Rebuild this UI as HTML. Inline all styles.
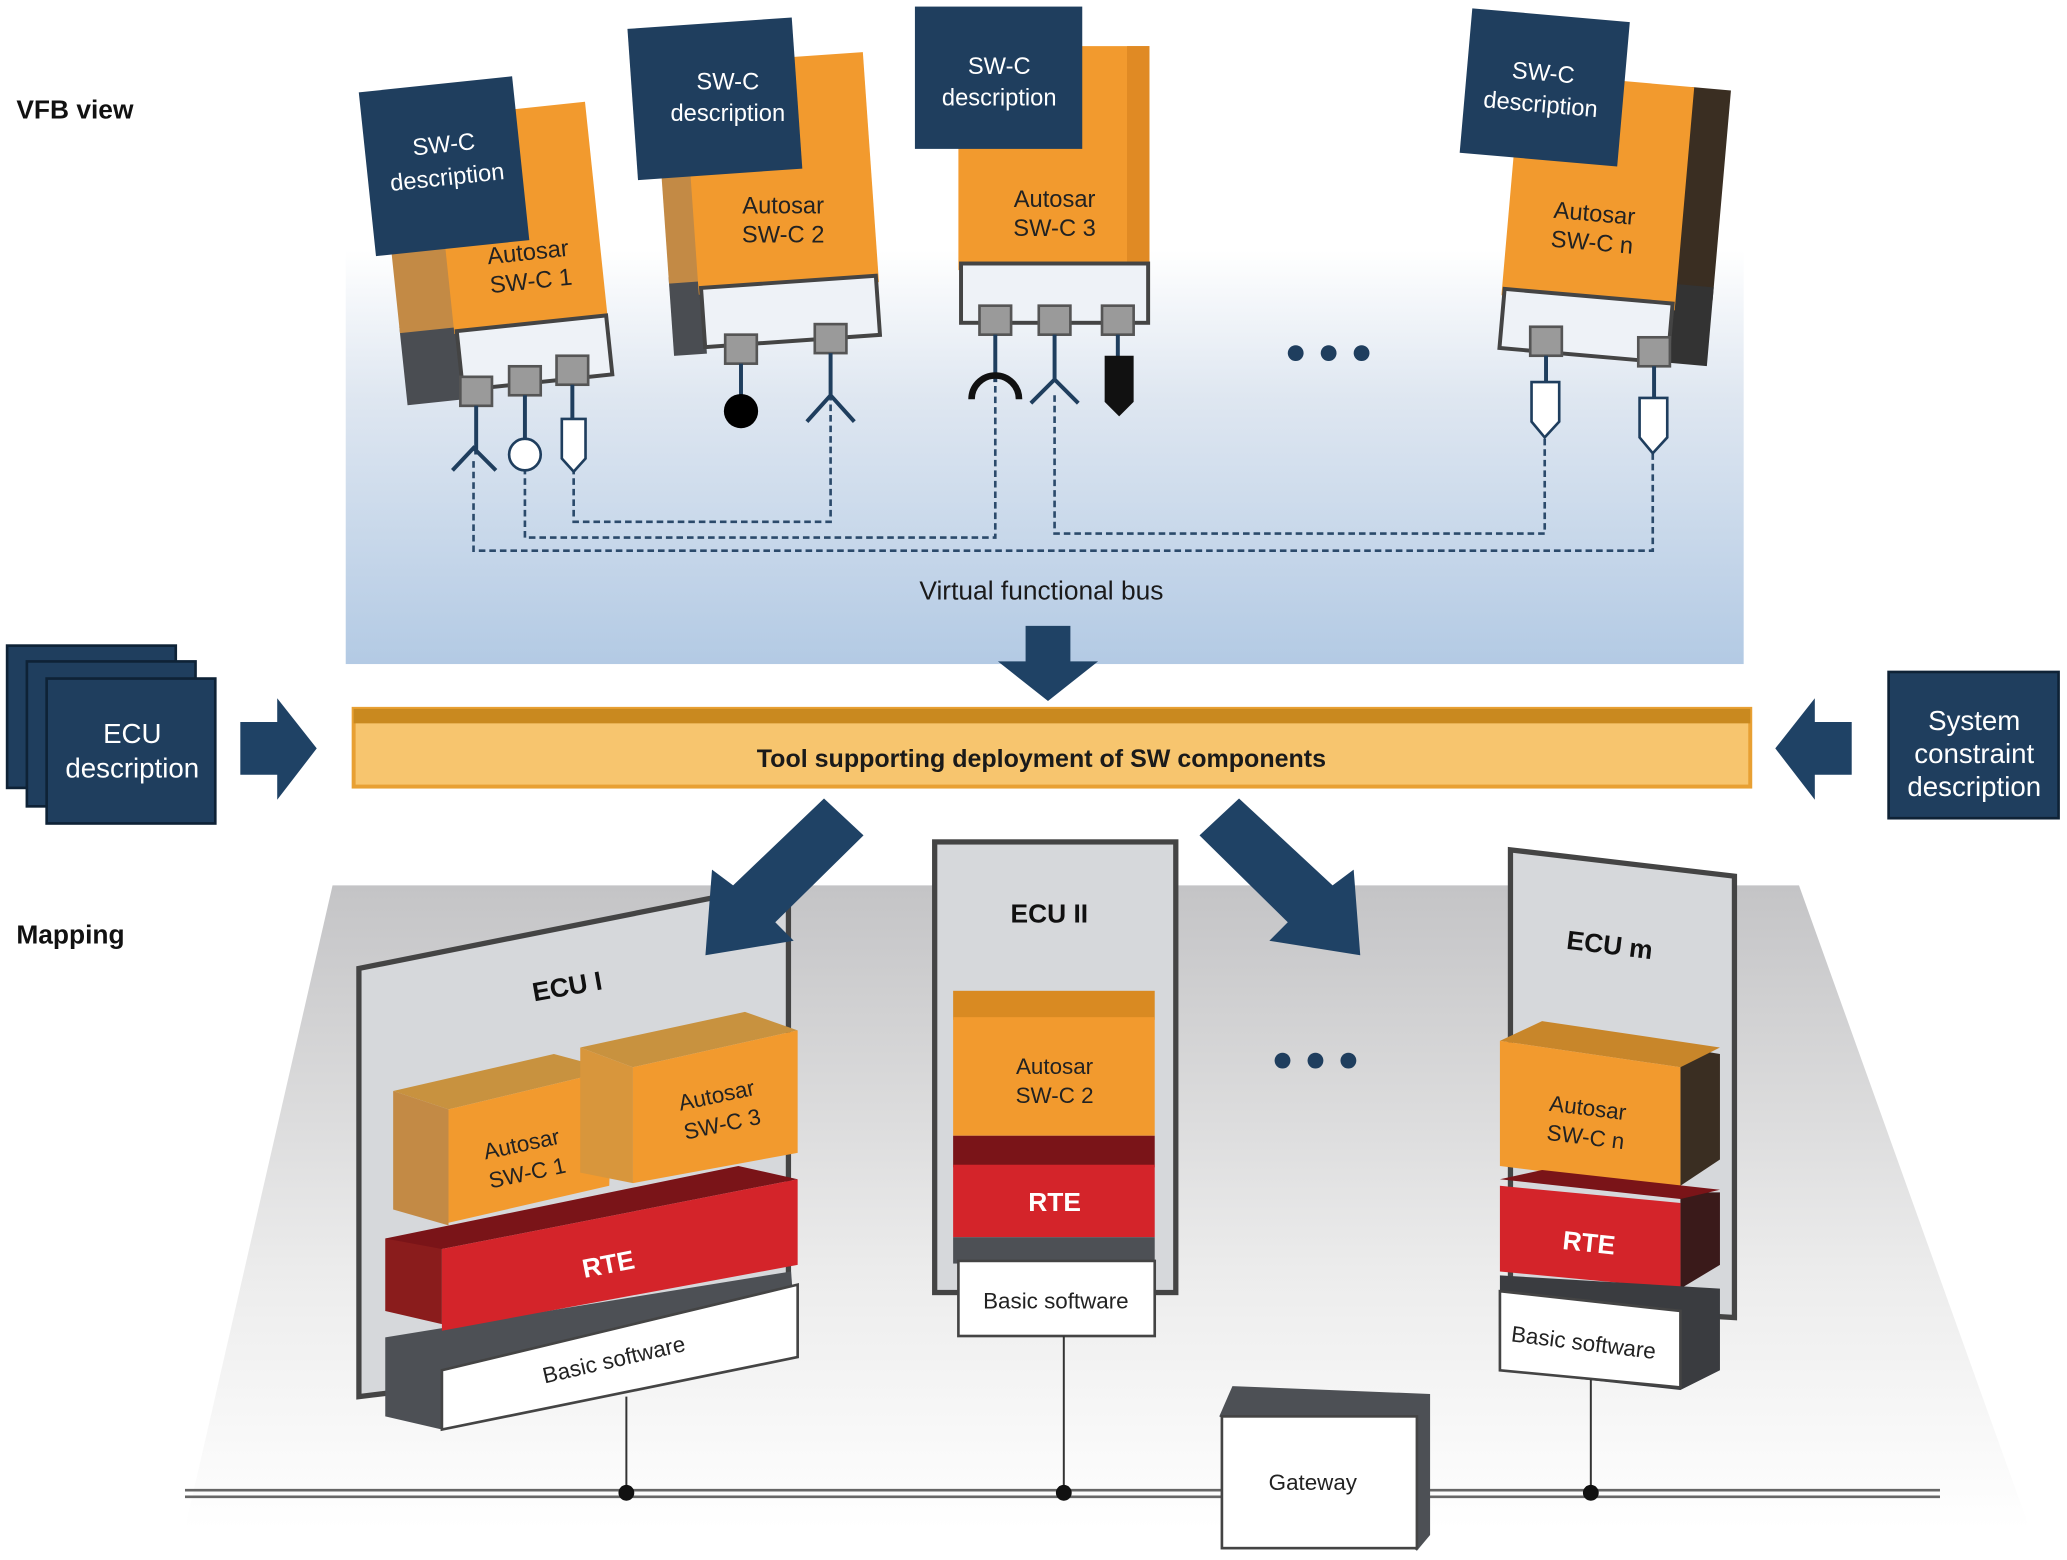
<!DOCTYPE html>
<html><head><meta charset="utf-8"><style>
html,body{margin:0;padding:0;background:#fff;}
svg{display:block;}
text{font-family:"Liberation Sans",sans-serif;}
</style></head><body>
<svg width="2067" height="1560" viewBox="0 0 1568 1184" xmlns="http://www.w3.org/2000/svg">
<defs>
<linearGradient id="vfb" x1="0" y1="0" x2="0" y2="1">
<stop offset="0" stop-color="#ffffff"/><stop offset="0.35" stop-color="#dfe7f1"/><stop offset="1" stop-color="#b3cae4"/>
</linearGradient>
<linearGradient id="floor" x1="0" y1="0" x2="0" y2="1">
<stop offset="0" stop-color="#c4c4c6"/><stop offset="0.6" stop-color="#ececec"/><stop offset="1" stop-color="#ffffff"/>
</linearGradient>
<g id="port"><rect x="-12" y="-12" width="24" height="22" fill="#9a9a9a" stroke="#555" stroke-width="2"/></g>
</defs>

<!-- VFB panel -->
<rect x="262" y="190" width="1061" height="314" fill="url(#vfb)"/>
<text x="12" y="90" font-size="20" font-weight="bold" fill="#111">VFB view</text>
<text x="12" y="716" font-size="20" font-weight="bold" fill="#111">Mapping</text>

<!-- dashed bus lines -->
<g fill="none" stroke="#2b4a6b" stroke-width="2" stroke-dasharray="5,3">
<path d="M359 350 V418 H1254 V340"/>
<path d="M398 355 V408 H755 V290"/>
<path d="M435 355 V396 H630 V300"/>
<path d="M800 300 V405 H1172 V330"/>
</g>
<text x="790" y="455" font-size="20" fill="#1a1a1a" text-anchor="middle">Virtual functional bus</text>

<!-- SW-C 1 -->
<g transform="rotate(-6 375 190)">
<rect x="297" y="240" width="45" height="60" fill="#4a4d52"/>
<rect x="297" y="95" width="45" height="150" fill="#c38a45"/>
<rect x="338" y="85" width="117" height="165" fill="#f29a2e"/>
<rect x="340" y="248" width="114" height="45" fill="#eef2f7" stroke="#444" stroke-width="3"/>
<rect x="285" y="60" width="117" height="125" fill="#1f3e5e"/>
<text x="345" y="112" font-size="18" fill="#fff" text-anchor="middle">SW-C</text>
<text x="345" y="137" font-size="18" fill="#fff" text-anchor="middle">description</text>
<text x="400" y="200" font-size="18" fill="#222" text-anchor="middle">Autosar</text>
<text x="400" y="222" font-size="18" fill="#222" text-anchor="middle">SW-C 1</text>
</g>
<use href="#port" x="361" y="298"/><use href="#port" x="398" y="290"/><use href="#port" x="434" y="282"/>
<g stroke="#1f3e5e" stroke-width="3" fill="none"><path d="M361 308 V345 M343 357 L359 340 L376 357"/><path d="M398 300 V333"/><path d="M434 292 V318"/></g>
<circle cx="398" cy="345" r="12" fill="#fff" stroke="#1f3e5e" stroke-width="2"/>
<path d="M426 318 H444 V348 L435 358 L426 348 Z" fill="#fff" stroke="#1f3e5e" stroke-width="2"/>

<!-- SW-C 2 -->
<g transform="rotate(-4 580 150)">
<rect x="503" y="205" width="25" height="60" fill="#4a4d52"/>
<rect x="503" y="60" width="25" height="150" fill="#c38a45"/>
<rect x="525" y="45" width="137" height="175" fill="#f29a2e"/>
<rect x="527" y="215" width="133" height="45" fill="#eef2f7" stroke="#444" stroke-width="3"/>
<rect x="485" y="15" width="125" height="115" fill="#1f3e5e"/>
</g>
<text x="552" y="68" font-size="18" fill="#fff" text-anchor="middle">SW-C</text>
<text x="552" y="92" font-size="18" fill="#fff" text-anchor="middle">description</text>
<text x="594" y="162" font-size="18" fill="#222" text-anchor="middle">Autosar</text>
<text x="594" y="184" font-size="18" fill="#222" text-anchor="middle">SW-C 2</text>
<use href="#port" x="562" y="266"/><use href="#port" x="630" y="258"/>
<g stroke="#1f3e5e" stroke-width="3" fill="none"><path d="M562 276 V300"/><path d="M630 268 V300 M612 320 L630 300 L648 320"/></g>
<circle cx="562" cy="312" r="13" fill="#000"/>

<!-- SW-C 3 -->
<rect x="727" y="35" width="145" height="170" fill="#f29a2e"/>
<rect x="855" y="35" width="17" height="170" fill="#e08a24"/>
<rect x="729" y="200" width="142" height="45" fill="#eef2f7" stroke="#444" stroke-width="3"/>
<rect x="694" y="5" width="127" height="108" fill="#1f3e5e"/>
<text x="758" y="56" font-size="18" fill="#fff" text-anchor="middle">SW-C</text>
<text x="758" y="80" font-size="18" fill="#fff" text-anchor="middle">description</text>
<text x="800" y="157" font-size="18" fill="#222" text-anchor="middle">Autosar</text>
<text x="800" y="179" font-size="18" fill="#222" text-anchor="middle">SW-C 3</text>
<use href="#port" x="755" y="244"/><use href="#port" x="800" y="244"/><use href="#port" x="848" y="244"/>
<g stroke="#1f3e5e" stroke-width="3" fill="none"><path d="M755 254 V290"/><path d="M737 303 A18 18 0 0 1 773 303" stroke="#111" stroke-width="5"/><path d="M800 254 V288 M782 306 L800 288 L818 306"/><path d="M848 254 V272"/></g>
<path d="M838 270 H860 V305 L849 316 L838 305 Z" fill="#111"/>

<circle cx="983" cy="268" r="6" fill="#1f3e5e"/><circle cx="1008" cy="268" r="6" fill="#1f3e5e"/><circle cx="1033" cy="268" r="6" fill="#1f3e5e"/>

<!-- SW-C n -->
<g transform="rotate(5 1210 160)">
<rect x="1275" y="60" width="30" height="160" fill="#3a2e22"/>
<rect x="1275" y="210" width="30" height="60" fill="#333"/>
<rect x="1145" y="60" width="132" height="170" fill="#f29a2e"/>
<rect x="1147" y="225" width="128" height="45" fill="#eef2f7" stroke="#444" stroke-width="3"/>
<rect x="1104" y="15" width="120" height="110" fill="#1f3e5e"/>
<text x="1162" y="65" font-size="18" fill="#fff" text-anchor="middle">SW-C</text>
<text x="1162" y="89" font-size="18" fill="#fff" text-anchor="middle">description</text>
<text x="1210" y="168" font-size="18" fill="#222" text-anchor="middle">Autosar</text>
<text x="1210" y="190" font-size="18" fill="#222" text-anchor="middle">SW-C n</text>
</g>
<use href="#port" x="1173" y="260"/><use href="#port" x="1255" y="268"/>
<g stroke="#1f3e5e" stroke-width="3" fill="none"><path d="M1173 270 V292"/><path d="M1255 278 V302"/></g>
<path d="M1162 290 H1183 V320 L1172 332 L1162 320 Z" fill="#fff" stroke="#1f3e5e" stroke-width="2"/>
<path d="M1244 302 H1265 V332 L1254 344 L1244 332 Z" fill="#fff" stroke="#1f3e5e" stroke-width="2"/>

<!-- Down arrow -->
<path d="M778 475 H812 V502 H833 L795 532 L757 502 H778 Z" fill="#1f4265"/>

<!-- Tool bar -->
<rect x="268" y="538" width="1060" height="59" fill="#f7c56e" stroke="#e8a033" stroke-width="3"/>
<rect x="268" y="538" width="1060" height="11" fill="#c9891f"/>
<text x="790" y="582" font-size="19" font-weight="bold" fill="#1a1a1a" text-anchor="middle">Tool supporting deployment of SW components</text>

<!-- ECU description stack -->
<rect x="5" y="490" width="128" height="108" fill="#1f3e5e" stroke="#0e2236" stroke-width="2"/>
<rect x="20" y="502" width="128" height="110" fill="#1f3e5e" stroke="#0e2236" stroke-width="2"/>
<rect x="35" y="515" width="128" height="110" fill="#1f3e5e" stroke="#0e2236" stroke-width="2"/>
<text x="100" y="564" font-size="21" fill="#fff" text-anchor="middle">ECU</text>
<text x="100" y="590" font-size="21" fill="#fff" text-anchor="middle">description</text>
<path d="M182 548 H210 V530 L240 568 L210 607 V588 H182 Z" fill="#1f4265"/>

<rect x="1433" y="510" width="129" height="111" fill="#1f3e5e" stroke="#0e2236" stroke-width="2"/>
<text x="1498" y="554" font-size="21" fill="#fff" text-anchor="middle">System</text>
<text x="1498" y="579" font-size="21" fill="#fff" text-anchor="middle">constraint</text>
<text x="1498" y="604" font-size="21" fill="#fff" text-anchor="middle">description</text>
<path d="M1405 548 H1377 V530 L1347 568 L1377 607 V588 H1405 Z" fill="#1f4265"/>

<!-- floor -->
<polygon points="252,672 1365,672 1540,1160 140,1160" fill="url(#floor)"/>

<!-- ECU I -->
<polygon points="272,735 598,670 598,1020 272,1060" fill="#d6d8db" stroke="#444" stroke-width="4"/>
<text x="0" y="0" font-size="20" font-weight="bold" fill="#111" transform="translate(405 760) rotate(-10)">ECU I</text>
<polygon points="292,1015 600,965 605,1030 335,1085 292,1075" fill="#4d5055"/>
<polygon points="335,1040 605,975 605,1030 335,1085" fill="#fff" stroke="#444" stroke-width="2"/>
<text font-size="17" fill="#222" transform="translate(413 1050) rotate(-13)">Basic software</text>
<polygon points="292,940 335,935 335,1005 292,995" fill="#8a1c1c"/>
<polygon points="292,940 560,885 605,895 335,948" fill="#7a1418"/>
<polygon points="335,948 605,895 605,960 335,1010" fill="#d4242a"/>
<text font-size="20" font-weight="bold" fill="#fff" transform="translate(443 970) rotate(-11)">RTE</text>
<polygon points="298,828 420,800 465,812 340,842" fill="#c8923f"/>
<polygon points="298,828 340,842 340,930 298,918" fill="#c38a45"/>
<polygon points="340,842 465,812 462,900 340,928" fill="#f29a2e"/>
<text font-size="17" fill="#222" transform="translate(368 880) rotate(-12)">Autosar</text>
<text font-size="17" fill="#222" transform="translate(372 902) rotate(-12)">SW-C 1</text>
<polygon points="440,795 565,768 605,782 480,810" fill="#c8923f"/>
<polygon points="440,795 480,810 480,898 440,890" fill="#d8963c"/>
<polygon points="480,810 605,782 605,875 480,898" fill="#f29a2e"/>
<text font-size="17" fill="#222" transform="translate(516 843) rotate(-12)">Autosar</text>
<text font-size="17" fill="#222" transform="translate(520 865) rotate(-12)">SW-C 3</text>

<!-- diag arrows -->
<polygon points="625,606 655,634 588,700 602,714 535,725 540,660 556,672" fill="#1f4265"/>
<polygon points="940,606 910,634 977,700 963,714 1032,725 1027,660 1011,672" fill="#1f4265"/>

<!-- ECU II -->
<rect x="709" y="639" width="183" height="342" fill="#d6d8db" stroke="#444" stroke-width="4"/>
<text x="796" y="700" font-size="20" font-weight="bold" fill="#111" text-anchor="middle">ECU II</text>
<rect x="723" y="752" width="153" height="22" fill="#d98a22"/>
<rect x="723" y="772" width="153" height="90" fill="#f29a2e"/>
<text x="800" y="815" font-size="17" fill="#222" text-anchor="middle">Autosar</text>
<text x="800" y="837" font-size="17" fill="#222" text-anchor="middle">SW-C 2</text>
<rect x="723" y="862" width="153" height="24" fill="#7a1418"/>
<rect x="723" y="884" width="153" height="55" fill="#d4242a"/>
<text x="800" y="919" font-size="20" font-weight="bold" fill="#fff" text-anchor="middle">RTE</text>
<rect x="723" y="939" width="153" height="20" fill="#4d5055"/>
<rect x="727" y="957" width="149" height="57" fill="#fff" stroke="#444" stroke-width="2"/>
<text x="801" y="993" font-size="17" fill="#222" text-anchor="middle">Basic software</text>

<circle cx="973" cy="805" r="6" fill="#1f3e5e"/><circle cx="998" cy="805" r="6" fill="#1f3e5e"/><circle cx="1023" cy="805" r="6" fill="#1f3e5e"/>

<!-- ECU m -->
<polygon points="1146,645 1316,665 1316,1000 1146,990" fill="#d6d8db" stroke="#444" stroke-width="4"/>
<text font-size="20" font-weight="bold" fill="#111" transform="translate(1188 720) rotate(7)">ECU m</text>
<polygon points="1275,795 1305,800 1305,880 1275,900" fill="#3a2e22"/>
<polygon points="1138,790 1170,775 1305,795 1275,810" fill="#c8862a"/>
<polygon points="1138,790 1275,810 1275,902 1138,885" fill="#f29a2e"/>
<text font-size="17" fill="#222" transform="translate(1175 843) rotate(7)">Autosar</text>
<text font-size="17" fill="#222" transform="translate(1173 865) rotate(7)">SW-C n</text>
<polygon points="1275,905 1305,905 1305,960 1275,978" fill="#3a1a1a"/>
<polygon points="1138,895 1170,888 1305,903 1275,910" fill="#7a1418"/>
<polygon points="1138,900 1275,913 1275,978 1138,965" fill="#d4242a"/>
<text font-size="20" font-weight="bold" fill="#fff" transform="translate(1185 948) rotate(6)">RTE</text>
<polygon points="1138,968 1305,978 1305,1040 1275,1055 1138,1040" fill="#3a3c40"/>
<polygon points="1138,980 1275,995 1275,1053 1138,1040" fill="#fff" stroke="#444" stroke-width="2"/>
<text font-size="17" fill="#222" transform="translate(1146 1018) rotate(7)">Basic software</text>

<!-- bus -->
<line x1="140" y1="1131" x2="1472" y2="1131" stroke="#666" stroke-width="2"/>
<line x1="140" y1="1136" x2="1472" y2="1136" stroke="#666" stroke-width="2"/>
<g stroke="#333" stroke-width="1.5"><line x1="475" y1="1060" x2="475" y2="1133"/><line x1="807" y1="1014" x2="807" y2="1133"/><line x1="1207" y1="1047" x2="1207" y2="1133"/></g>
<circle cx="475" cy="1133" r="6" fill="#111"/><circle cx="807" cy="1133" r="6" fill="#111"/><circle cx="1207" cy="1133" r="6" fill="#111"/>

<!-- Gateway -->
<polygon points="925,1075 935,1052 1085,1058 1085,1165 1075,1177" fill="#4d5055"/>
<rect x="927" y="1075" width="148" height="100" fill="#fff" stroke="#444" stroke-width="2"/>
<text x="996" y="1131" font-size="17" fill="#222" text-anchor="middle">Gateway</text>
</svg>
</body></html>
